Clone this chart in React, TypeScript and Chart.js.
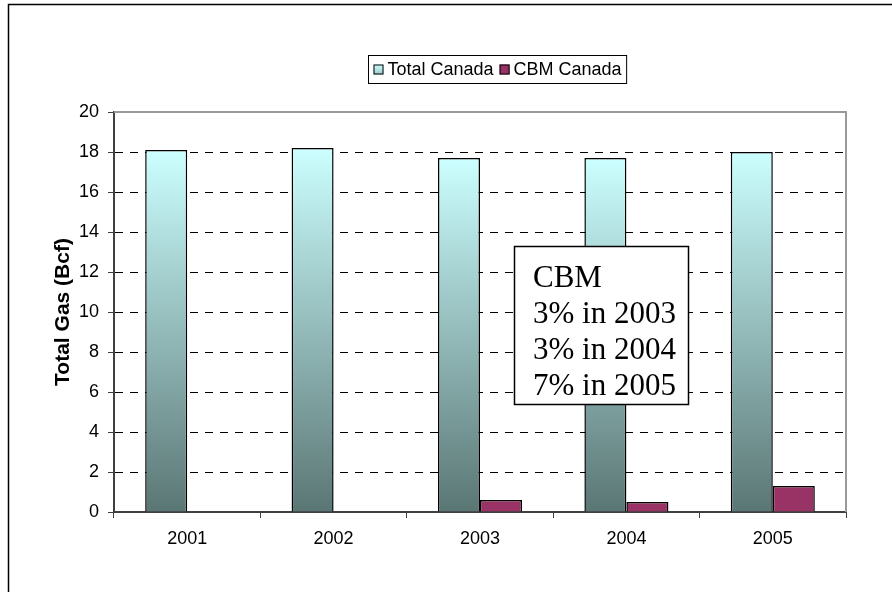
import { useEffect, useRef } from "react";
import { Chart, registerables } from "chart.js";

Chart.register(...registerables);

// Annual gas volumes (Bcf)
const years = ["2001", "2002", "2003", "2004", "2005"];
const totalCanada = [18.1, 18.2, 17.7, 17.7, 18.0];
const cbmCanada = [0, 0, 0.6, 0.5, 1.3];
const seriesNames = ["Total Canada", "CBM Canada"];
const yMin = 0;
const yMax = 20;
const yStep = 2;
const noteLines = ["CBM", "3% in 2003", "3% in 2004", "7% in 2005"];

const SANS = "'Liberation Sans', Arial, sans-serif";
const SERIF = "'Liberation Serif', 'Times New Roman', serif";
const TEAL_TOP = "#ccffff";
const TEAL_BOTTOM = "#5a7674";
const PLUM = "#993366";

const W = 892;
const H = 592;

// Frame, legend box, plot border and note box
const decorations = {
  id: "decorations",
  afterDraw(chart: any) {
    const { ctx, chartArea } = chart;
    ctx.save();

    // outer frame (only top and left edges fall inside the canvas)
    ctx.strokeStyle = "#000";
    ctx.lineWidth = 1.5;
    ctx.beginPath();
    ctx.moveTo(8.5, H + 2);
    ctx.lineTo(8.5, 4.5);
    ctx.lineTo(W + 2, 4.5);
    ctx.stroke();

    // grey plot-area border on top and right
    ctx.strokeStyle = "#9a9a9a";
    ctx.lineWidth = 2;
    ctx.beginPath();
    ctx.moveTo(chartArea.left, chartArea.top);
    ctx.lineTo(chartArea.right, chartArea.top);
    ctx.lineTo(chartArea.right, chartArea.bottom);
    ctx.stroke();

    // legend
    ctx.font = `18px ${SANS}`;
    ctx.textBaseline = "middle";
    ctx.textAlign = "left";
    const box = 10;
    const gapMarker = 4;
    const gapItem = 6;
    const padX = 5;
    const widths = seriesNames.map((n) => ctx.measureText(n).width);
    const itemsW =
      widths.reduce((a: number, b: number) => a + b, 0) +
      seriesNames.length * (box + gapMarker) +
      gapItem * (seriesNames.length - 1);
    const lw = itemsW + padX * 2;
    const lcx = 497;
    const lx = Math.round(lcx - lw / 2) + 0.5;
    const ly = 55.5;
    const lh = 28;
    ctx.fillStyle = "#fff";
    ctx.fillRect(lx, ly, lw, lh);
    ctx.strokeStyle = "#000";
    ctx.lineWidth = 1;
    ctx.strokeRect(lx, ly, lw, lh);
    let x = lx + padX;
    const my = ly + lh / 2;
    seriesNames.forEach((name, i) => {
      if (i === 0) {
        const g = ctx.createLinearGradient(0, my - box / 2, 0, my + box / 2);
        g.addColorStop(0, TEAL_TOP);
        g.addColorStop(1, "#9cc9c9");
        ctx.fillStyle = g;
      } else {
        ctx.fillStyle = PLUM;
      }
      ctx.fillRect(x, my - box / 2, box, box);
      ctx.strokeStyle = "#000";
      ctx.lineWidth = 1;
      ctx.strokeRect(x + 0.5, my - box / 2 + 0.5, box - 1, box - 1);
      x += box + gapMarker;
      ctx.fillStyle = "#000";
      ctx.fillText(name, x, my + 1);
      x += widths[i] + gapItem;
    });

    // note box
    const nx = 514.5;
    const ny = 246.5;
    const nw = 174;
    const nh = 158;
    ctx.fillStyle = "#fff";
    ctx.fillRect(nx, ny, nw, nh);
    ctx.strokeStyle = "#000";
    ctx.lineWidth = 1.5;
    ctx.strokeRect(nx, ny, nw, nh);
    ctx.fillStyle = "#000";
    ctx.font = `31px ${SERIF}`;
    ctx.textBaseline = "alphabetic";
    noteLines.forEach((line, i) => {
      ctx.fillText(line, 533, 287 + i * 36);
    });

    ctx.restore();
  },
};

function tealGradient(context: any) {
  const chart = context.chart;
  const area = chart.chartArea;
  if (!area) return TEAL_TOP;
  const yScale = chart.scales.y;
  const top = yScale.getPixelForValue(context.raw ?? 0);
  const base = yScale.getPixelForValue(0);
  if (!isFinite(top) || Math.abs(base - top) < 1) return TEAL_BOTTOM;
  const g = chart.ctx.createLinearGradient(0, top, 0, base);
  g.addColorStop(0, TEAL_TOP);
  g.addColorStop(1, TEAL_BOTTOM);
  return g;
}

export default function App() {
  const ref = useRef<HTMLCanvasElement | null>(null);

  useEffect(() => {
    if (!ref.current) return;
    const chart = new Chart(ref.current, {
      type: "bar",
      data: {
        labels: years,
        datasets: [
          {
            label: seriesNames[0],
            data: totalCanada,
            backgroundColor: tealGradient,
            borderColor: "#000",
            borderWidth: 1.5,
            borderSkipped: "bottom",
            categoryPercentage: 0.574,
            barPercentage: 1,
          },
          {
            label: seriesNames[1],
            data: cbmCanada,
            backgroundColor: PLUM,
            borderColor: "#000",
            borderWidth: 1.5,
            borderSkipped: "bottom",
            categoryPercentage: 0.574,
            barPercentage: 1,
          },
        ],
      },
      options: {
        responsive: false,
        animation: false,
        devicePixelRatio: 1,
        layout: { padding: { top: 112, right: 46, left: 0, bottom: 0 } },
        plugins: {
          legend: { display: false },
          tooltip: { enabled: false },
        },
        scales: {
          x: {
            afterFit: (s: any) => {
              s.height = 80;
            },
            grid: {
              offset: true,
              drawOnChartArea: false,
              drawTicks: true,
              tickLength: 6,
              tickColor: "#404040",
              tickWidth: 1,
            },
            border: { color: "#404040", width: 2 },
            ticks: {
              color: "#000",
              font: { family: SANS, size: 18 },
              padding: 10,
              maxRotation: 0,
            },
          },
          y: {
            min: yMin,
            max: yMax,
            afterFit: (s: any) => {
              s.width = 114;
            },
            ticks: {
              stepSize: yStep,
              color: "#000",
              font: { family: SANS, size: 18 },
              padding: 9,
            },
            grid: {
              color: (c: any) =>
                c.tick && (c.tick.value === yMin || c.tick.value === yMax)
                  ? "rgba(0,0,0,0)"
                  : "#000",
              lineWidth: 1,
              drawTicks: true,
              tickLength: 6,
              tickColor: "#404040",
              tickWidth: 1,
              tickBorderDash: [],
            },
            border: { color: "#404040", width: 2, dash: [8, 7] },
            title: {
              display: true,
              text: "Total Gas (Bcf)",
              color: "#000",
              font: { family: SANS, size: 21, weight: "bold" },
              padding: { top: 51, bottom: 0 },
            },
          },
        },
      },
      plugins: [decorations],
    });
    return () => chart.destroy();
  }, []);

  return (
    <div style={{ position: "absolute", left: 0, top: 0, width: W, height: H, background: "#fff" }}>
      <canvas ref={ref} width={W} height={H} style={{ display: "block", width: W, height: H }} />
    </div>
  );
}
